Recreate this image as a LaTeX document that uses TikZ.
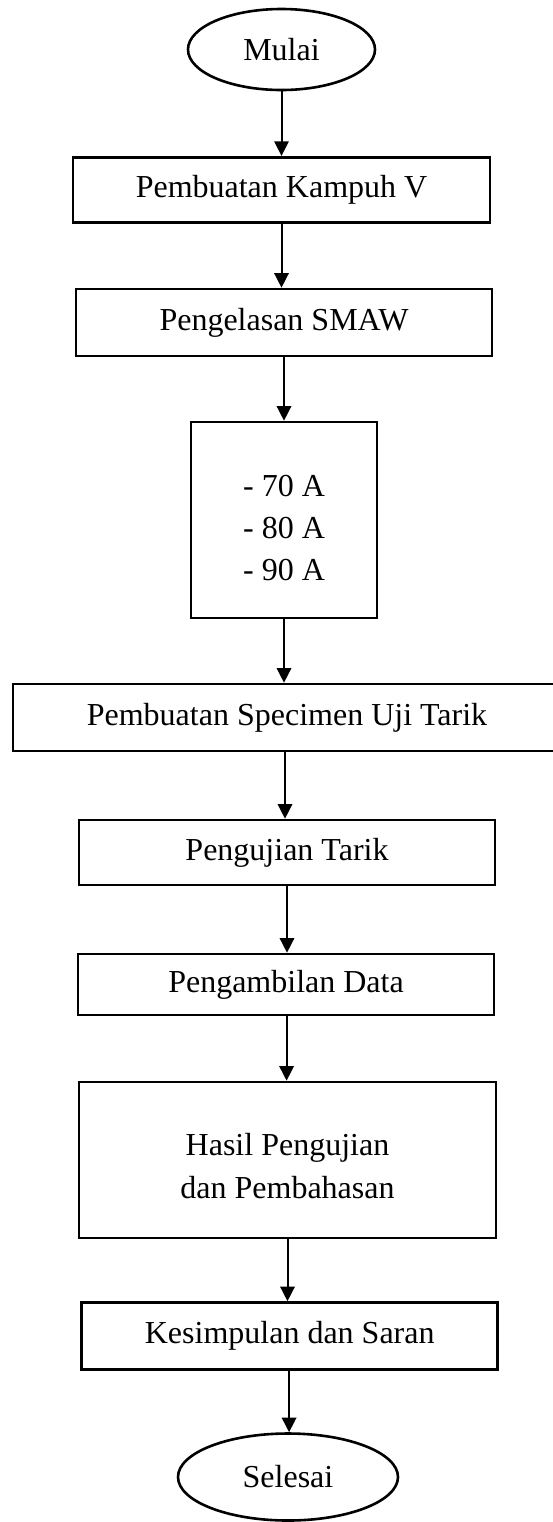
\documentclass[tikz,border=0pt]{standalone}
\usepackage{fontspec}
\setmainfont{Liberation Serif}
\usetikzlibrary{arrows.meta,shapes.geometric}
\begin{document}
\begin{tikzpicture}[x=0.5pt,y=-0.5pt,
  boxst/.style={draw, line width=1.3pt, inner sep=0pt, font=\fontsize{16}{21}\selectfont},
  ovalst/.style={ellipse, draw, line width=1.3pt, inner sep=0pt, font=\fontsize{16}{21}\selectfont},
  txt/.style={inner sep=0pt, align=center},
  arr/.style={line width=1pt, -{Triangle[width=7.2pt,length=7.3pt]}}]
\useasboundingbox (0,0) rectangle (552,1522);
\node[ovalst, minimum width=93.5pt, minimum height=40.5pt] (mulai) at (281.5,49.5) {Mulai};
\node[boxst, minimum width=208.5pt, minimum height=32.5pt] (kampuh) at (281.5,189.7) {Pembuatan Kampuh V};
\node[boxst, minimum width=208pt, minimum height=33.5pt] (smaw) at (284,322.5) {Pengelasan SMAW};
\node[boxst, minimum width=93pt, minimum height=98pt] (amps) at (284,520) {};
\node[txt, font=\fontsize{16}{20.85}\selectfont] (ampstxt) at (284,528) {- 70 A\\- 80 A\\- 90 A};
\node[boxst, minimum width=274pt, minimum height=33.5pt] (spec) at (287,717.5) {Pembuatan Specimen Uji Tarik};
\node[boxst, minimum width=208pt, minimum height=32.5pt] (uji) at (287,852.5) {Pengujian Tarik};
\node[boxst, minimum width=208pt, minimum height=30.5pt] (data) at (286,984.5) {Pengambilan Data};
\node[boxst, minimum width=208.5pt, minimum height=78pt] (hasil) at (287.5,1160) {};
\node[txt, font=\fontsize{16}{21.85}\selectfont] (hasiltxt) at (287.5,1166) {Hasil Pengujian\\dan Pembahasan};
\node[boxst, minimum width=208pt, minimum height=33.5pt] (kes) at (289.7,1336) {Kesimpulan dan Saran};
\node[ovalst, minimum width=110pt, minimum height=43.5pt] (selesai) at (288,1477) {Selesai};
\draw[arr] (mulai.south) -- (mulai.south |- kampuh.north);
\draw[arr] (kampuh.south) -- (kampuh.south |- smaw.north);
\draw[arr] (smaw.south) -- (smaw.south |- amps.north);
\draw[arr] (amps.south) -- (amps.south |- spec.north);
\draw[arr] ([xshift=-1pt]spec.south) -- ([xshift=-1pt]spec.south |- uji.north);
\draw[arr] (uji.south) -- (uji.south |- data.north);
\draw[arr] ([xshift=0.3pt]data.south) -- ([xshift=0.3pt]data.south |- hasil.north);
\draw[arr] (hasil.south) -- (hasil.south |- kes.north);
\draw[arr] ([xshift=-0.3pt]kes.south) -- ([xshift=-0.3pt]kes.south |- selesai.north);
\end{tikzpicture}
\end{document}
